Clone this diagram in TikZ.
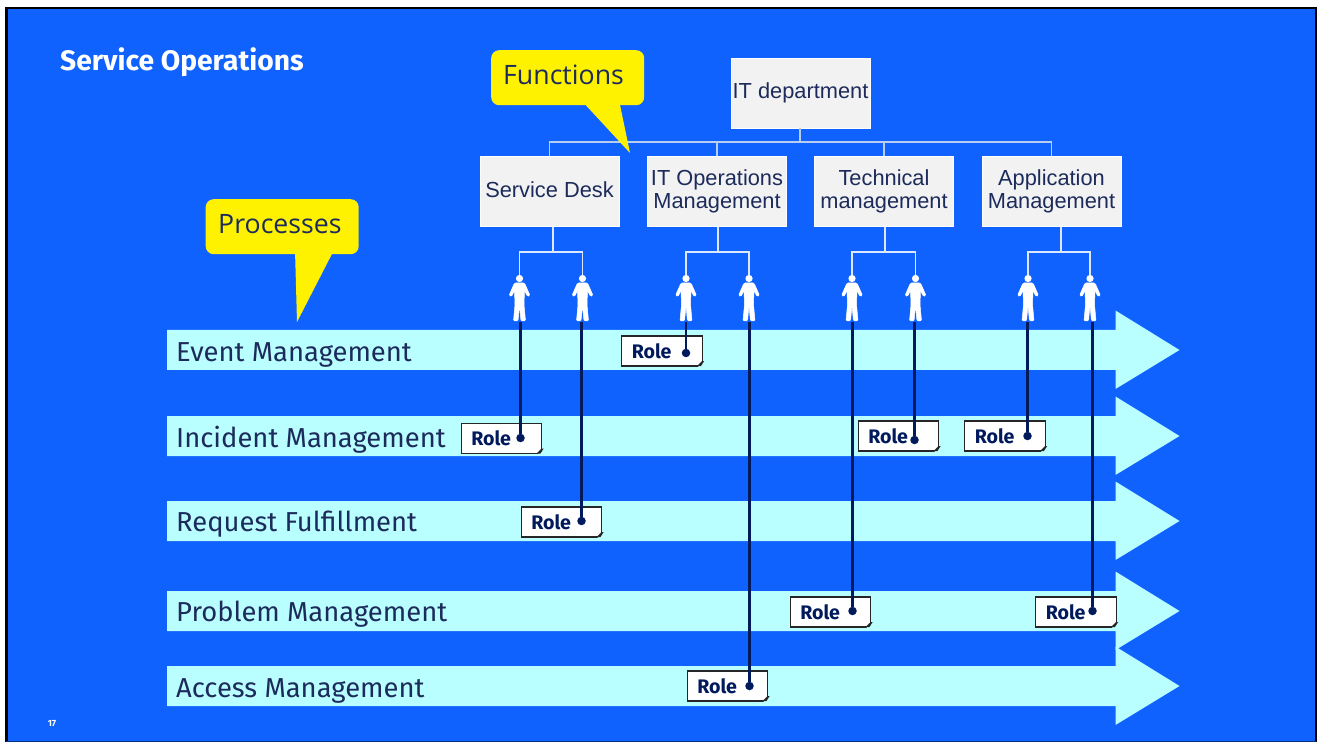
\documentclass[tikz,border=0pt]{standalone}
\usepackage{fontspec}
\setmainfont{Liberation Sans}
\newfontfamily\plexlike{Fira Sans}
\newfontfamily\callfont{Open Sans}
\definecolor{bgblue}{HTML}{0F62FE}
\definecolor{arrowcyan}{HTML}{BAFFFF}
\definecolor{navy}{HTML}{001A5C}
\definecolor{boxgrey}{HTML}{F2F2F2}
\definecolor{boxtext}{HTML}{1C2B5B}
\definecolor{treeline}{HTML}{B9CDF0}
\definecolor{lowtree}{HTML}{DCE8FF}
\tikzset{
  x=1pt,y=-1pt,
  funcbox/.style={fill=boxgrey,draw=white,line width=0.3pt,minimum width=139pt,minimum height=70pt,inner sep=0pt,align=center,text=boxtext,font=\fontsize{21.8}{23.5}\selectfont},
  procarrow/.style={fill=arrowcyan},
  proclabel/.style={anchor=west,inner sep=0pt,text=boxtext,font=\plexlike\fontsize{27.4}{30}\selectfont},
  callout/.style={fill=yellow,rounded corners=8pt,minimum width=153pt,minimum height=55pt,inner sep=0pt},
  calltext/.style={anchor=west,inner sep=0pt,text=boxtext,font=\callfont\fontsize{26.7}{30}\selectfont},
  calltail/.style={fill=yellow},
  rolenote/.style={fill=white,draw=black!85,line width=1.2pt,minimum height=30pt,text width=60.5pt,inner xsep=10pt,inner ysep=0pt,align=left,text=navy,font=\plexlike\bfseries\fontsize{19.6}{22}\selectfont},
  roledot/.style={circle,fill=navy,minimum size=8.5pt,inner sep=0pt},
  roleline/.style={draw=navy,line width=2.6pt},
  uptree/.style={draw=treeline,line width=1.3pt},
  downtree/.style={draw=lowtree,line width=1.3pt},
  person/.style={minimum width=28pt,minimum height=46pt,inner sep=0pt,
    path picture={
      \fill[white] (0,-20) circle (3.6pt);
      \filldraw[white,line width=0.5pt,rounded corners=1.2pt] (-5,-15.5) -- (5,-15.5) -- (10.5,-3) -- (8,-2) -- (5,-8) -- (4.5,6) -- (6,22.5) -- (1.5,22.5) -- (0,7) -- (-1.5,22.5) -- (-6,22.5) -- (-4.5,6) -- (-5,-8) -- (-8,-2) -- (-10.5,-3) -- cycle;
    }},
}
\begin{document}
\begin{tikzpicture}
\useasboundingbox (0,0) rectangle (1318,743);
\fill[white] (0,0) rectangle (1318,743);
\fill[bgblue] (6,7) rectangle (1316,742);
\draw[black,line width=2pt] (6.5,8) -- (1316,8);
\draw[black,line width=2.6pt] (6.2,7) -- (6.2,742);
\draw[black,line width=2.6pt] (1316,7) -- (1316,742);
\draw[black!50!bgblue,line width=1.2pt] (6,741.8) -- (1316,741.8);

\node[anchor=west,inner sep=0pt,text=white,font=\plexlike\bfseries\fontsize{28.2}{30}\selectfont] (title) at (60,62.5) {Service Operations};
\node[inner sep=0pt,text=white,font=\plexlike\bfseries\fontsize{9}{10}\selectfont] (pagenum) at (52,723.5) {17};

% process arrows
\foreach \cy in {350,436,521,611,686}{
  \fill[procarrow] (167,\cy-20) -- (1115.5,\cy-20) -- (1115.5,\cy-39.5) -- (1179.5,\cy) -- (1115.5,\cy+39) -- (1115.5,\cy+20) -- (167,\cy+20) -- cycle;
}
\node[proclabel] (l1) at (176,354.5) {Event Management};
\node[proclabel] (l2) at (176,439.5) {Incident Management};
\node[proclabel] (l3) at (176,524.5) {Request Fulfillment};
\node[proclabel] (l4) at (176,614.5) {Problem Management};
\node[proclabel] (l5) at (176,691) {Access Management};

% function boxes
\node[funcbox] (dept) at (800.5,93) {IT department};
\node[funcbox] (sd) at (549.5,191.5) {\raisebox{3pt}{Service Desk}};
\node[funcbox] (ops) at (717,191.5) {IT Operations\\Management};
\node[funcbox] (tech) at (884,191.5) {Technical\\management};
\node[funcbox] (app) at (1051.5,191.5) {Application\\Management};

% upper tree
\coordinate (top) at (800,142);
\draw[uptree] (dept.south -| top) -- (top);
\draw[uptree] (sd.north) |- (top);
\draw[uptree] (app.north) |- (top);
\draw[uptree] (ops.north) -- (ops.north |- top);
\draw[uptree] (tech.north) -- (tech.north |- top);

% callouts
\fill[calltail] (581,100) -- (630,153) -- (619,100) -- cycle;
\node[callout,anchor=north west] (fn) at (491,50) {};
\node[calltext] (fnt) at (503,74.5) {Functions};
\fill[calltail] (295,250) -- (297,322) -- (334,250) -- cycle;
\node[callout,anchor=north west] (pr) at (205.5,199) {};
\node[calltext] (prt) at (218,224) {Processes};

% people
\foreach \pn/\px in {p1/519.5,p2/582.5,p3/686,p4/749,p5/852,p6/915.5,p7/1028,p8/1090}{
  \node[person] (\pn) at (\px,298.5) {};
}
% lower trees
\foreach \fb/\pa/\pb/\jx in {sd/p1/p2/553,ops/p3/p4/718,tech/p5/p6/885,app/p7/p8/1061}{
  \coordinate (j) at (\jx,252);
  \draw[downtree] (\fb.south -| j) -- (j);
  \draw[downtree] (\pa.north) |- (j);
  \draw[downtree] (\pb.north) |- (j);
}

% roles
\node[rolenote] (r1) at (662,351) {Role};
\node[rolenote] (r2) at (501.5,438.5) {Role};
\node[rolenote] (r3) at (561.5,522) {Role};
\node[rolenote] (r4) at (898.5,436) {Role};
\node[rolenote] (r5) at (1005,436) {Role};
\node[rolenote] (r6) at (830.5,612) {Role};
\node[rolenote] (r7) at (1076,612) {Role};
\node[rolenote] (r8) at (727.5,686) {Role};
\foreach \rn in {r1,r2,r3,r4,r5,r6,r7,r8}{
  % folded corner: cut the corner, then a dark wedge along the cut
  \fill[arrowcyan] ([xshift=1.5pt,yshift=-1.5pt]\rn.south east) -- ++(-7.5,0) -- ++(7.5,-7.5) -- cycle;
  \fill[black!85] ([xshift=-6pt,yshift=0.4pt]\rn.south east) -- ++(5,-5) -- ++(2.2,0) -- ++(-3.2,5) -- cycle;
}
\node[roledot] (d1) at (686,353) {};
\node[roledot] (d2) at (520.5,438) {};
\node[roledot] (d3) at (581.5,521) {};
\node[roledot] (d4) at (914.5,440) {};
\node[roledot] (d5) at (1027.5,436) {};
\node[roledot] (d6) at (852.5,611) {};
\node[roledot] (d7) at (1092.5,611) {};
\node[roledot] (d8) at (749.5,686) {};
\foreach \pn/\dn in {p1/d2,p2/d3,p3/d1,p4/d8,p5/d6,p6/d4,p7/d5,p8/d7}{
  \draw[roleline] (\pn.south -| \dn) -- (\dn);
}
\end{tikzpicture}
\end{document}
